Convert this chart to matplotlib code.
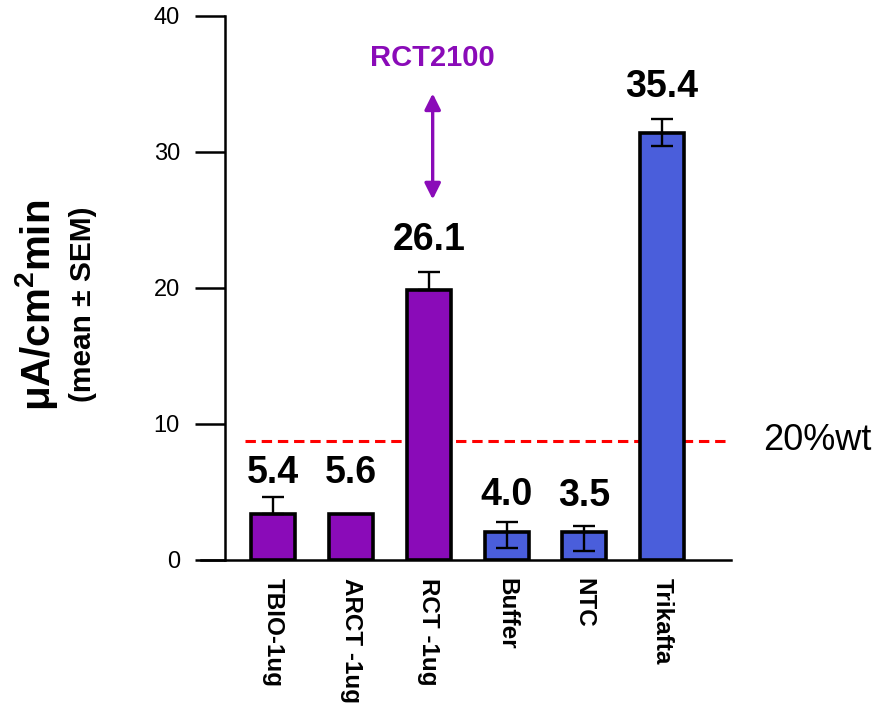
import matplotlib
matplotlib.use("Agg")
import matplotlib.pyplot as plt

plt.rcParams["font.family"] = ["Liberation Sans", "DejaVu Sans"]
plt.rcParams["mathtext.fontset"] = "custom"
plt.rcParams["mathtext.bf"] = "Liberation Sans:bold"
plt.rcParams["mathtext.rm"] = "Liberation Sans:bold"
plt.rcParams["mathtext.default"] = "bf"

# Data
categories = ["TBIO-1ug", "ARCT -1ug", "RCT -1ug", "Buffer", "NTC", "Trikafta"]
means = [3.35, 3.35, 19.8, 2.0, 2.0, 31.4]
sem_upper = [1.25, 0.0, 1.35, 0.75, 0.5, 1.0]
sem_lower = [0.0, 0.0, 0.0, 1.15, 1.4, 0.95]
show_err = [True, False, True, True, True, True]
value_labels = ["5.4", "5.6", "26.1", "4.0", "3.5", "35.4"]
threshold = 8.74
threshold_label = "20%wt"
y_ticks = [0, 10, 20, 30, 40]

# label gap above each bar/error cap, in points
label_gap = [10, 22, 16, 12, 14, 16]

purple = "#8A0BB8"
blue = "#4A5EDB"
bar_colors = [purple, purple, purple, blue, blue, blue]

fig = plt.figure(figsize=(8.92, 7.07), dpi=100)
ax = fig.add_axes([225 / 892, 1 - 559.5 / 707, (731 - 225) / 892, (559.5 - 16) / 707])

x = list(range(len(categories)))
ax.bar(x, means, width=0.566, color=bar_colors, edgecolor="black",
       linewidth=2.6, zorder=2)

for xi, m, lo, up, s in zip(x, means, sem_lower, sem_upper, show_err):
    if s:
        ax.errorbar([xi], [m], yerr=[[lo], [up]], fmt="none", ecolor="black",
                    elinewidth=1.7, capsize=8, capthick=1.7, zorder=3)

for xi, m, up, lab, g in zip(x, means, sem_upper, value_labels, label_gap):
    ax.annotate(lab, xy=(xi, m + up), xytext=(0, g), textcoords="offset points",
                ha="center", va="baseline", fontsize=27, fontweight="bold",
                zorder=4)

# 20% wild-type reference level
ax.axhline(threshold, xmin=0.0395, xmax=1.0, color="#FF0000", linestyle=(0, (3.4, 1.9)),
           linewidth=2.2, zorder=1)
ax.text(1.063, threshold, threshold_label, transform=ax.get_yaxis_transform(),
        ha="left", va="center", fontsize=26, clip_on=False)

# RCT2100 annotation with double arrow
ax.text(2.05, 36.9, "RCT2100", ha="center", va="center", fontsize=21,
        fontweight="bold", color=purple)
ax.annotate("", xy=(2.05, 34.3), xytext=(2.05, 26.5),
            arrowprops=dict(arrowstyle="<|-|>", color=purple, lw=2.4,
                            mutation_scale=24, shrinkA=0, shrinkB=0))

ax.set_xlim(-0.621, 5.887)
ax.set_ylim(0, 40)
ax.set_yticks(y_ticks)
ax.set_xticks(x)
ax.set_xticklabels(categories, rotation=-90, fontsize=17.5, fontweight="bold",
                   va="top", ha="center")
ax.tick_params(axis="x", length=0, pad=13)
ax.tick_params(axis="y", length=21.5, width=1.8, labelsize=17, pad=11)

for side in ["top", "right"]:
    ax.spines[side].set_visible(False)
ax.spines["left"].set_linewidth(1.8)
ax.spines["bottom"].set_visible(False)
# baseline extends a little past the y-axis
ax.plot([-0.621 - 24 / 77.75, 5.887], [0, 0], color="black", linewidth=1.8,
        clip_on=False, zorder=5)

# Y-axis title in two lines
fig.text(37 / 892, 1 - 305 / 707, r"μA/cm$^{2}$min", rotation=90, ha="center",
         va="center", fontsize=29, fontweight="bold")
fig.text(83 / 892, 1 - 304 / 707, "(mean ± SEM)", rotation=90, ha="center",
         va="center", fontsize=21.5, fontweight="bold")

fig.savefig("out.png", dpi=100)
